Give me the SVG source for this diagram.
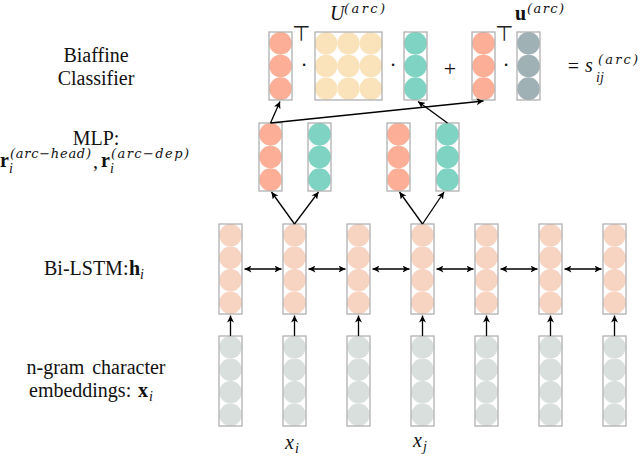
<svg xmlns="http://www.w3.org/2000/svg" xmlns:xlink="http://www.w3.org/1999/xlink" width="640" height="456" viewBox="0 0 640 456">
<style>
.box{fill:none;stroke:#a9a9a9;stroke-width:1.2}
.lbl{font-family:"Liberation Serif","Times New Roman",serif;font-size:20px;fill:#111}
.it{font-style:italic}
.bf{font-weight:bold}
.sub{font-size:14px;font-style:italic}
.sp{font-family:"DejaVu Serif","Liberation Serif",serif;font-size:13px;font-style:italic}
.op{font-family:"Liberation Serif",serif;font-size:20px;fill:#111;text-anchor:middle}
.tp{font-family:"DejaVu Sans",sans-serif;font-size:21px;fill:#222}
.conn line{stroke:#000;stroke-width:1.3;fill:none}
.hs{fill:#fcae96}.tl{fill:#7ed3c3}.cr{fill:#fae3ba}.sl{fill:#a0b1b5}.ls{fill:#f7d3c2}.eg{fill:#d9dfdd}
</style>
<defs>
<marker id="ah" viewBox="0 0 8 8" refX="8" refY="4" markerWidth="7" markerHeight="7" markerUnits="userSpaceOnUse" orient="auto-start-reverse">
<path d="M8,4 L0,0 L2.2,4 L0,8 Z" fill="#000"/>
</marker>
<g id="c3">
<circle cx="11.5" cy="11.33" r="11.3"/><circle cx="11.5" cy="34" r="11.3"/><circle cx="11.5" cy="56.67" r="11.3"/>
<rect class="box" x="0" y="0" width="23" height="68"/>
</g>
<g id="c4">
<circle cx="11.5" cy="11.25" r="11.2"/><circle cx="11.5" cy="33.75" r="11.2"/><circle cx="11.5" cy="56.25" r="11.2"/><circle cx="11.5" cy="78.75" r="11.2"/>
<rect class="box" x="0" y="0" width="23" height="90"/>
</g>
</defs>
<rect width="640" height="456" fill="#fff"/>

<!-- left labels -->
<g id="labels" class="lbl">
<text x="96" y="61.5" text-anchor="middle">Biaffine</text>
<text x="96" y="85" text-anchor="middle">Classifier</text>
<text x="96" y="145" text-anchor="middle">MLP:</text>
<text y="167"><tspan x="0" class="bf">r</tspan><tspan x="10" y="158" class="sp" textLength="81" lengthAdjust="spacing">(arc−head)</tspan><tspan x="9" y="173" class="sub">i</tspan><tspan x="93" y="168">,</tspan><tspan x="101" y="167" class="bf">r</tspan><tspan x="111" y="158" class="sp" textLength="78" lengthAdjust="spacing">(arc−dep)</tspan><tspan x="110" y="173" class="sub">i</tspan></text>
<text y="275"><tspan x="44">Bi-LSTM:</tspan><tspan x="129" class="bf">h</tspan><tspan x="140" y="279" class="sub">i</tspan></text>
<text x="96" y="374" text-anchor="middle" word-spacing="3">n-gram character</text>
<text y="397"><tspan x="29" word-spacing="2">embeddings:</tspan><tspan x="138" class="bf">x</tspan><tspan x="149" y="401" class="sub">i</tspan></text>
<text y="449"><tspan x="285" class="it">x</tspan><tspan x="295" y="453" class="sub">i</tspan></text>
<text y="447"><tspan x="413" class="it">x</tspan><tspan x="423" y="451" class="sub">j</tspan></text>
</g>

<!-- biaffine classifier -->
<g id="biaffine">
<g id="head-vec-1"><use href="#c3" x="269" y="32" class="hs"/><text class="tp" x="292" y="41">⊤</text></g>
<text class="op" x="304" y="72">·</text>
<g id="U-matrix">
<g class="cr">
<circle cx="326.2" cy="43.33" r="11.2"/><circle cx="348.5" cy="43.33" r="11.2"/><circle cx="370.8" cy="43.33" r="11.2"/>
<circle cx="326.2" cy="66" r="11.2"/><circle cx="348.5" cy="66" r="11.2"/><circle cx="370.8" cy="66" r="11.2"/>
<circle cx="326.2" cy="88.67" r="11.2"/><circle cx="348.5" cy="88.67" r="11.2"/><circle cx="370.8" cy="88.67" r="11.2"/>
</g>
<rect class="box" x="315" y="32" width="67" height="68"/>
<text class="lbl" y="20"><tspan x="330" class="it">U</tspan><tspan x="344" y="12.5" class="sp" textLength="41" lengthAdjust="spacing">(arc)</tspan></text>
</g>
<text class="op" x="393" y="72">·</text>
<g id="dep-vec"><use href="#c3" x="404" y="32" class="tl"/></g>
<text class="op" x="450" y="76" style="font-size:22px">+</text>
<g id="head-vec-2"><use href="#c3" x="472" y="32" class="hs"/><text class="tp" x="495" y="41">⊤</text></g>
<text class="op" x="506" y="72">·</text>
<g id="u-vec"><use href="#c3" x="517" y="32" class="sl"/>
<text class="lbl" y="19.5"><tspan x="515" class="bf">u</tspan><tspan x="527" y="12.5" class="sp" textLength="37" lengthAdjust="spacing">(arc)</tspan></text>
</g>
<text class="op" x="573.5" y="73">=</text>
<g id="score"><text class="lbl" y="71.5"><tspan x="585" class="it">s</tspan><tspan x="598" y="64" class="sp" textLength="40" lengthAdjust="spacing">(arc)</tspan><tspan x="596" y="82" class="sub">ij</tspan></text></g>
</g>

<!-- MLP -->
<g id="mlp-head-i"><use href="#c3" x="259" y="123" class="hs"/></g>
<g id="mlp-dep-i"><use href="#c3" x="308" y="123" class="tl"/></g>
<g id="mlp-head-j"><use href="#c3" x="387" y="123" class="hs"/></g>
<g id="mlp-dep-j"><use href="#c3" x="436" y="123" class="tl"/></g>

<!-- Bi-LSTM -->
<g id="lstm-1"><use href="#c4" x="219" y="224" class="ls"/></g>
<g id="lstm-2"><use href="#c4" x="283" y="224" class="ls"/></g>
<g id="lstm-3"><use href="#c4" x="347" y="224" class="ls"/></g>
<g id="lstm-4"><use href="#c4" x="411" y="224" class="ls"/></g>
<g id="lstm-5"><use href="#c4" x="475" y="224" class="ls"/></g>
<g id="lstm-6"><use href="#c4" x="539" y="224" class="ls"/></g>
<g id="lstm-7"><use href="#c4" x="603" y="224" class="ls"/></g>

<!-- embeddings -->
<g id="emb-1"><use href="#c4" x="219" y="336" class="eg"/></g>
<g id="emb-2"><use href="#c4" x="283" y="336" class="eg"/></g>
<g id="emb-3"><use href="#c4" x="347" y="336" class="eg"/></g>
<g id="emb-4"><use href="#c4" x="411" y="336" class="eg"/></g>
<g id="emb-5"><use href="#c4" x="475" y="336" class="eg"/></g>
<g id="emb-6"><use href="#c4" x="539" y="336" class="eg"/></g>
<g id="emb-7"><use href="#c4" x="603" y="336" class="eg"/></g>

<!-- connectors -->
<g id="connectors" class="conn">
<line x1="230.5" y1="336" x2="230.5" y2="315.5" marker-end="url(#ah)"/>
<line x1="294.5" y1="336" x2="294.5" y2="315.5" marker-end="url(#ah)"/>
<line x1="358.5" y1="336" x2="358.5" y2="315.5" marker-end="url(#ah)"/>
<line x1="422.5" y1="336" x2="422.5" y2="315.5" marker-end="url(#ah)"/>
<line x1="486.5" y1="336" x2="486.5" y2="315.5" marker-end="url(#ah)"/>
<line x1="550.5" y1="336" x2="550.5" y2="315.5" marker-end="url(#ah)"/>
<line x1="614.5" y1="336" x2="614.5" y2="315.5" marker-end="url(#ah)"/>
<line x1="244.5" y1="269" x2="281.5" y2="269" marker-start="url(#ah)" marker-end="url(#ah)"/>
<line x1="308.5" y1="269" x2="345.5" y2="269" marker-start="url(#ah)" marker-end="url(#ah)"/>
<line x1="372.5" y1="269" x2="409.5" y2="269" marker-start="url(#ah)" marker-end="url(#ah)"/>
<line x1="436.5" y1="269" x2="473.5" y2="269" marker-start="url(#ah)" marker-end="url(#ah)"/>
<line x1="500.5" y1="269" x2="537.5" y2="269" marker-start="url(#ah)" marker-end="url(#ah)"/>
<line x1="564.5" y1="269" x2="601.5" y2="269" marker-start="url(#ah)" marker-end="url(#ah)"/>
<line x1="294.5" y1="224" x2="271.5" y2="192" marker-end="url(#ah)"/>
<line x1="294.5" y1="224" x2="318.5" y2="192" marker-end="url(#ah)"/>
<line x1="422.5" y1="224" x2="399.5" y2="192" marker-end="url(#ah)"/>
<line x1="422.5" y1="224" x2="444" y2="192" marker-end="url(#ah)"/>
<line x1="270.5" y1="123" x2="280" y2="101.5" marker-end="url(#ah)"/>
<line x1="270.5" y1="123" x2="483.5" y2="101" marker-end="url(#ah)"/>
<line x1="447.5" y1="123" x2="418" y2="101.5" marker-end="url(#ah)"/>
</g>
</svg>
